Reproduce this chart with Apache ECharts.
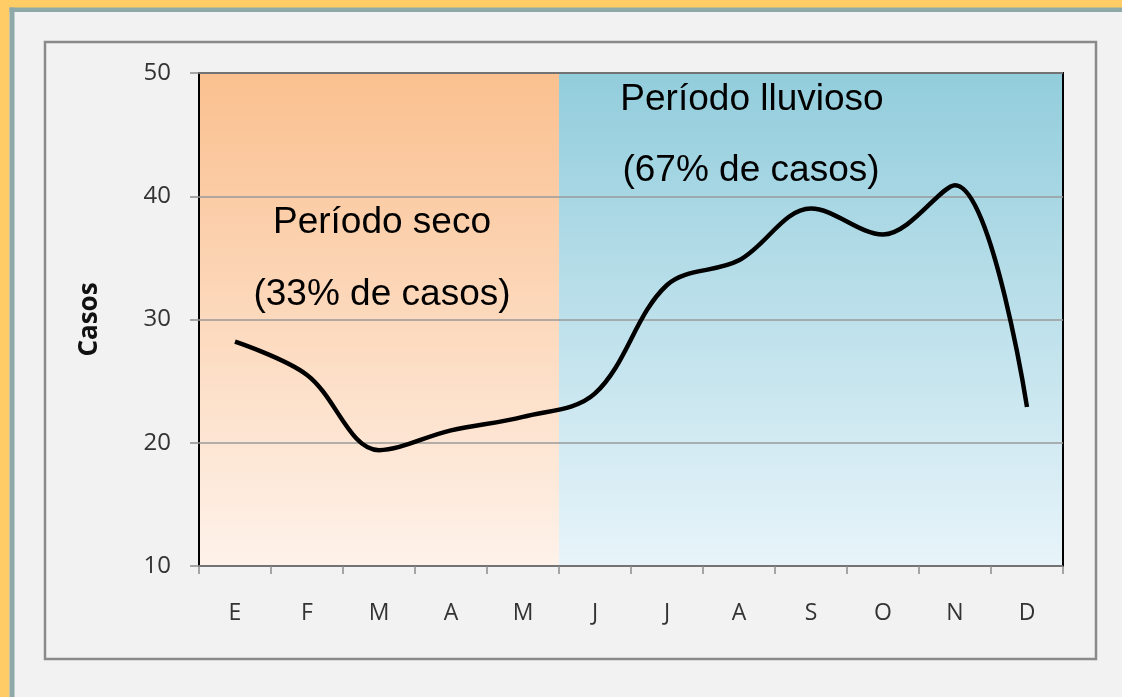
<!DOCTYPE html>
<html>
<head>
<meta charset="utf-8">
<script src="https://cdn.jsdelivr.net/npm/echarts@6/dist/echarts.min.js"></script>
<style>
  html, body { margin: 0; padding: 0; background: #f2f2f2; }
  #chart { width: 1122px; height: 697px; }
</style>
</head>
<body>
<div id="chart"></div>
<script>
// meses y casos
const meses = ["E", "F", "M", "A", "M", "J", "J", "A", "S", "O", "N", "D"];
const casos = [28.2, 25.5, 19.4, 21.0, 22.1, 24.0, 32.8, 34.8, 39.0, 36.9, 40.9, 22.9];
const yTicks = [10, 20, 30, 40, 50];
// periodos (indices de meses, inicio y fin de banda)
const periodoSeco = [0, 5];
const periodoLluvioso = [5, 12];
const textoSeco = ["Período seco", "(33% de casos)"];
const textoLluvioso = ["Período lluvioso", "(67% de casos)"];

const myChart = echarts.init(document.getElementById("chart"));

const txt = (t, x, y) => ({
  type: "text",
  x: x,
  y: y,
  z: 20,
  style: {
    text: t,
    fill: "#000",
    font: "37px 'Liberation Sans', Arial, sans-serif",
    align: "center",
    verticalAlign: "middle"
  }
});

const option = {
  backgroundColor: "#f2f2f2",
  animation: false,
  grid: {
    left: 199,
    top: 73,
    right: 59,
    bottom: 131,
    z: 6,
    show: true,
    borderColor: "#000",
    borderWidth: 2,
    backgroundColor: "transparent"
  },
  xAxis: [
    {
      type: "category",
      data: meses,
      boundaryGap: true,
      z: 6,
      axisLine: { show: false },
      axisTick: {
        show: true,
        length: 8,
        lineStyle: { color: "#8c8c8c", width: 1.5 }
      },
      axisLabel: {
        margin: 36,
        color: "#333",
        fontSize: 23,
        fontFamily: "'Open Sans', sans-serif"
      }
    },
    {
      // eje auxiliar para las bandas de fondo
      type: "value",
      min: 0,
      max: 12,
      show: false
    }
  ],
  yAxis: {
    type: "value",
    min: yTicks[0],
    max: yTicks[yTicks.length - 1],
    interval: 10,
    z: 6,
    name: "Casos",
    nameLocation: "middle",
    nameGap: 96,
    nameRotate: 90,
    nameTextStyle: {
      color: "#111",
      fontSize: 26,
      fontWeight: "bold",
      fontFamily: "'Open Sans', sans-serif"
    },
    axisLine: { show: false },
    axisTick: {
      show: true,
      length: 9,
      lineStyle: { color: "#8c8c8c", width: 1.5 }
    },
    axisLabel: {
      margin: 28,
      color: "#333",
      fontSize: 24,
      fontFamily: "'Open Sans', sans-serif"
    },
    splitLine: {
      lineStyle: { color: "#9a9a9a", width: 1.5 }
    }
  },
  series: [
    {
      name: "bandas",
      type: "line",
      xAxisIndex: 1,
      data: [],
      z: 1,
      silent: true,
      markArea: {
        silent: true,
        data: [
          [
            {
              xAxis: periodoSeco[0],
              itemStyle: {
                color: new echarts.graphic.LinearGradient(0, 0, 0, 1, [
                  { offset: 0, color: "#fac08f" },
                  { offset: 1, color: "#fef2ea" }
                ])
              }
            },
            { xAxis: periodoSeco[1] }
          ],
          [
            {
              xAxis: periodoLluvioso[0],
              itemStyle: {
                color: new echarts.graphic.LinearGradient(0, 0, 0, 1, [
                  { offset: 0, color: "#92cddc" },
                  { offset: 1, color: "#e8f4fa" }
                ])
              }
            },
            { xAxis: periodoLluvioso[1] }
          ]
        ]
      }
    },
    {
      name: "Casos",
      type: "line",
      data: casos,
      smooth: 0.35,
      showSymbol: false,
      lineStyle: { color: "#000", width: 4.5 },
      z: 10
    }
  ],
  graphic: [
    { type: "rect", shape: { x: 0, y: 0, width: 1122, height: 8 }, style: { fill: "#ffcc66" } },
    { type: "rect", shape: { x: 0, y: 0, width: 9.5, height: 697 }, style: { fill: "#ffcc66" } },
    { type: "rect", shape: { x: 9.5, y: 7.5, width: 1113, height: 4.5 }, style: { fill: "#8fa9a9" } },
    { type: "rect", shape: { x: 9.5, y: 7.5, width: 5, height: 690 }, style: { fill: "#8fa9a9" } },
    {
      type: "rect",
      shape: { x: 45, y: 42, width: 1051, height: 617 },
      style: { fill: "none", stroke: "#8a8a8a", lineWidth: 2.5 }
    },
    txt(textoSeco[0], 382, 223),
    txt(textoSeco[1], 382, 295),
    txt(textoLluvioso[0], 752, 100),
    txt(textoLluvioso[1], 751, 171)
  ]
};

myChart.setOption(option);
</script>
</body>
</html>
